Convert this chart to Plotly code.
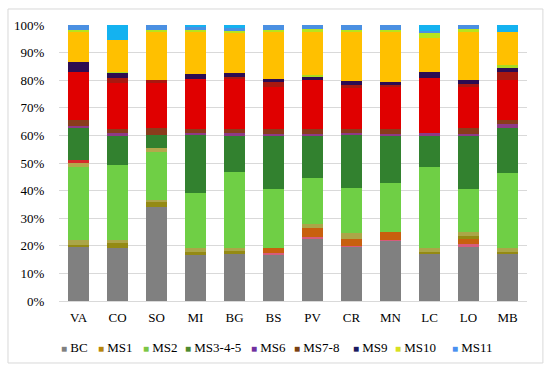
import plotly.graph_objects as go

categories = ["VA", "CO", "SO", "MI", "BG", "BS", "PV", "CR", "MN", "LC", "LO", "MB"]

# segment heights (%) per station, bottom to top
bc        = [19.4, 19.3, 34.2, 16.5, 17.0, 16.9, 22.7, 19.7, 21.8, 17.0, 19.4, 16.9]
pink      = [0, 0, 0, 0, 0, 0.4, 0.4, 0.3, 0.3, 0, 1.1, 0]
orange    = [0, 0, 0, 0, 0, 1.8, 3.3, 2.3, 3.0, 0, 1.8, 0]
ms1       = [1.0, 1.6, 1.8, 1.2, 1.2, 0, 0, 0, 0, 0.9, 1.3, 0.9]
khaki     = [1.6, 1.2, 0.6, 1.4, 0.9, 0, 1.5, 2.2, 0, 1.2, 1.5, 1.3]
ms2       = [26.5, 27.2, 17.4, 20.2, 27.8, 21.4, 16.5, 16.3, 17.5, 29.6, 15.4, 27.2]
khaki2    = [1.5, 0, 1.5, 0, 0, 0, 0, 0, 0, 0, 0, 0]
redthin   = [1.2, 0, 0, 0, 0, 0, 0, 0, 0, 0, 0, 0]
ms345     = [11.6, 10.8, 4.7, 20.8, 13.2, 19.6, 15.7, 19.7, 17.5, 11.1, 19.6, 16.3]
ms6       = [0.6, 0.6, 0, 0.8, 0.6, 0.5, 0.5, 0.3, 0.5, 0.9, 0.5, 1.4]
ms78      = [2.2, 1.8, 2.4, 1.6, 1.8, 1.9, 1.9, 1.7, 1.9, 0, 2.0, 1.5]
red       = [17.5, 16.4, 16.5, 17.8, 17.8, 14.9, 17.6, 14.7, 14.9, 20.0, 14.8, 14.5]
darkred   = [0, 1.8, 0.9, 0, 0.8, 2.1, 0, 1.2, 0.9, 0, 1.2, 2.8]
ms9       = [3.6, 2.0, 0, 1.9, 1.5, 1.1, 1.4, 1.4, 1.2, 2.4, 1.5, 1.6]
ylg_low   = [0, 0.4, 0, 0, 0, 0, 0.4, 0, 0, 0, 0, 1.0]
yellow    = [10.9, 11.5, 17.8, 15.4, 14.8, 17.0, 15.7, 17.8, 18.1, 12.1, 17.7, 11.9]
ms10      = [0.6, 0, 0.5, 0.6, 0.6, 0.6, 0.9, 0.6, 0.6, 1.8, 0.6, 0]
ms11      = [1.8, 0, 1.7, 0.9, 0.9, 1.8, 1.5, 1.8, 1.8, 1.0, 1.6, 0]
cyan      = [0, 5.4, 0, 0.9, 1.1, 0, 0, 0, 0, 2.0, 0, 2.6]

y_ticks = [0, 10, 20, 30, 40, 50, 60, 70, 80, 90, 100]
y_tick_labels = ["0%", "10%", "20%", "30%", "40%", "50%", "60%", "70%", "80%", "90%", "100%"]

legend_names = ["BC", "MS1", "MS2", "MS3-4-5", "MS6", "MS7-8", "MS9", "MS10", "MS11"]

series = [
    ("BC", bc, "#808080"),
    ("pink", pink, "#D65C7C"),
    ("orange", orange, "#C8600E"),
    ("MS1", ms1, "#948A14"),
    ("khaki", khaki, "#ABA648"),
    ("MS2", ms2, "#6FCF45"),
    ("khaki2", khaki2, "#B4A84C"),
    ("redthin", redthin, "#D62A2A"),
    ("MS3-4-5", ms345, "#32812F"),
    ("MS6", ms6, "#8E3A86"),
    ("MS7-8", ms78, "#8A3C1C"),
    ("red", red, "#E00000"),
    ("darkred", darkred, "#A8180F"),
    ("MS9", ms9, "#2C0C52"),
    ("ylg_low", ylg_low, "#A8DC22"),
    ("yellow", yellow, "#FFC000"),
    ("MS10", ms10, "#B8E41E"),
    ("MS11", ms11, "#4A90E2"),
    ("cyan", cyan, "#14B2F0"),
]

# legend swatch colours as in the reference legend
legend_colors = {"BC": "#808080", "MS1": "#B8860B", "MS2": "#7CC644",
                 "MS3-4-5": "#4E8A2E", "MS6": "#7030A0", "MS7-8": "#7A4010",
                 "MS9": "#1A1A60", "MS10": "#D8E020", "MS11": "#4A90F0"}
legend_x_px = [59, 96, 141, 183, 249, 292, 351, 393, 450]

FONT = "Liberation Serif, Times New Roman, DejaVu Serif, serif"
PLOT_L, PLOT_W = 59, 468
PLOT_B, PLOT_H = 301, 276

fig = go.Figure()
for name, vals, color in series:
    fig.add_trace(go.Bar(
        x=categories, y=vals, name=name,
        marker=dict(color=color, line=dict(width=0)),
        showlegend=False,
    ))

annotations = []
for name, px in zip(legend_names, legend_x_px):
    annotations.append(dict(
        xref="paper", yref="paper",
        x=(px - PLOT_L) / PLOT_W, y=(PLOT_B - 347) / PLOT_H,
        xanchor="left", yanchor="middle", showarrow=False,
        text=f"<span style='color:{legend_colors[name]};font-size:10px'>■</span> {name}",
        font=dict(family=FONT, size=13, color="#000000"),
    ))

fig.update_layout(
    barmode="stack",
    bargap=0.46,
    width=550, height=371,
    margin=dict(l=59, r=23, t=25, b=70),
    paper_bgcolor="white",
    plot_bgcolor="white",
    font=dict(family=FONT, size=13, color="#000000"),
    showlegend=False,
    xaxis=dict(
        showgrid=False, ticks="outside", ticklen=4, tickcolor="rgba(0,0,0,0)",
        showline=True, linecolor="#D9D9D9", linewidth=1,
        tickfont=dict(family=FONT, size=13),
    ),
    yaxis=dict(
        range=[0, 100], tickmode="array", tickvals=y_ticks, ticktext=y_tick_labels,
        showgrid=True, gridcolor="#D9D9D9", gridwidth=1,
        zeroline=False, showline=False,
        ticks="outside", ticklen=11, tickcolor="rgba(0,0,0,0)",
        tickfont=dict(family=FONT, size=13),
    ),
    annotations=annotations,
    shapes=[dict(
        type="rect", xref="paper", yref="paper",
        x0=-0.109, x1=1.034, y0=-0.2246, y1=1.058,
        line=dict(color="#D9D9D9", width=1), fillcolor="rgba(0,0,0,0)",
        layer="below",
    )],
)

fig.write_html("out.html", config={"displayModeBar": False},
               post_script="document.body.style.margin='0';document.body.style.padding='0';")
